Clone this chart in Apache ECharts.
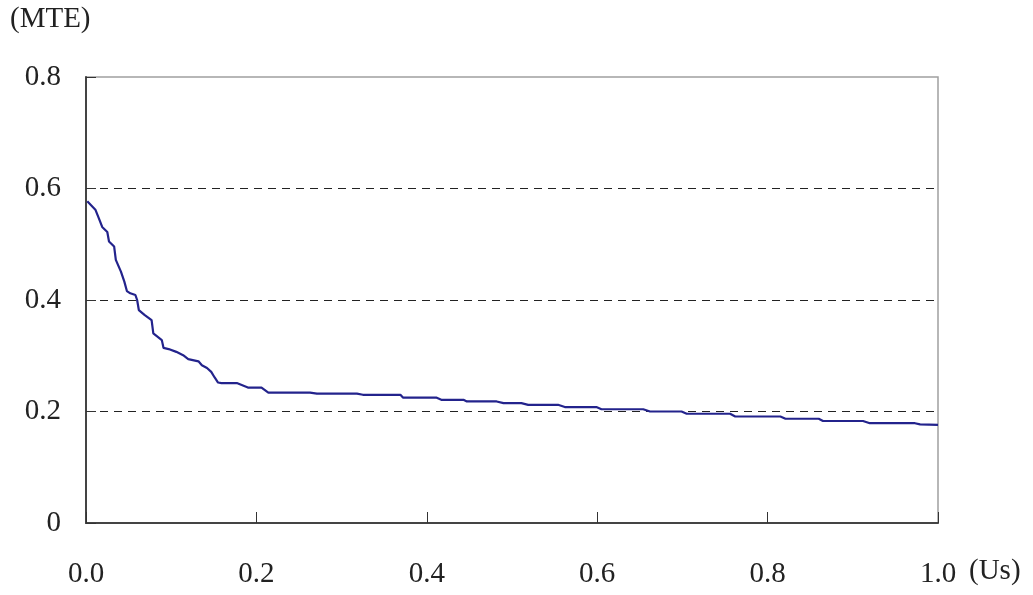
<!DOCTYPE html>
<html>
<head>
<meta charset="utf-8">
<script src="https://cdn.jsdelivr.net/npm/echarts@6/dist/echarts.min.js"></script>
<style>
  html, body { margin: 0; padding: 0; background: #fff; }
  #chart { width: 1033px; height: 595px; }
</style>
</head>
<body>
<div id="chart"></div>
<script>
// 曲线数据 (Us, MTE)
const usValues = [
  0.0015, 0.011, 0.015, 0.019, 0.025, 0.027, 0.033, 0.035, 0.041, 0.045,
  0.048, 0.052, 0.058, 0.060, 0.062, 0.069, 0.077, 0.079, 0.089, 0.091,
  0.097, 0.106, 0.114, 0.120, 0.132, 0.136, 0.142, 0.147, 0.151, 0.155,
  0.159, 0.177, 0.190, 0.206, 0.214, 0.263, 0.271, 0.318, 0.325, 0.369,
  0.372, 0.411, 0.417, 0.443, 0.447, 0.482, 0.490, 0.511, 0.519, 0.554,
  0.562, 0.599, 0.605, 0.654, 0.662, 0.699, 0.705, 0.756, 0.762, 0.815,
  0.821, 0.860, 0.865, 0.912, 0.920, 0.973, 0.979, 1.0
]
const mteValues = [
  0.577, 0.562, 0.547, 0.531, 0.522, 0.505, 0.496, 0.472, 0.451, 0.433,
  0.416, 0.412, 0.409, 0.400, 0.382, 0.373, 0.364, 0.340, 0.328, 0.314,
  0.312, 0.307, 0.301, 0.294, 0.290, 0.283, 0.278, 0.271, 0.261, 0.252,
  0.251, 0.251, 0.243, 0.243, 0.234, 0.234, 0.232, 0.232, 0.230, 0.230,
  0.225, 0.225, 0.221, 0.221, 0.218, 0.218, 0.215, 0.215, 0.212, 0.212,
  0.208, 0.208, 0.204, 0.204, 0.200, 0.200, 0.196, 0.196, 0.191, 0.191,
  0.187, 0.187, 0.183, 0.183, 0.179, 0.179, 0.177, 0.176
]
const yTickLabels = ['0', '0.2', '0.4', '0.6', '0.8']
const xTickLabels = ['0.0', '0.2', '0.4', '0.6', '0.8', '1.0']

const chartInstance = echarts.init(document.getElementById('chart'))
const font = '"Liberation Serif", "Times New Roman", serif'

const option = {
  backgroundColor: '#fff',
  animation: false,
  grid: {
    left: 86,
    top: 77,
    right: 95,
    bottom: 72,
    show: true,
    borderColor: '#a0a0a0',
    borderWidth: 1.5
  },
  xAxis: {
    type: 'value',
    min: 0,
    max: 1,
    interval: 0.2,
    axisLine: { lineStyle: { color: '#444', width: 2 } },
    axisTick: { inside: true, length: 11, lineStyle: { color: '#333' } },
    axisLabel: {
      margin: 37,
      color: '#222',
      fontFamily: font,
      fontSize: 29,
      formatter: (v) => xTickLabels[Math.round(v * 5)]
    },
    splitLine: { show: false }
  },
  yAxis: {
    type: 'value',
    min: 0,
    max: 0.8,
    interval: 0.2,
    axisLine: { show: true, lineStyle: { color: '#444', width: 2 } },
    axisTick: { show: true, inside: true, length: 10, lineStyle: { color: '#333' } },
    axisLabel: {
      margin: 25,
      color: '#222',
      fontFamily: font,
      fontSize: 29,
      formatter: (v) => yTickLabels[Math.round(v * 5)]
    },
    splitLine: {
      show: true,
      lineStyle: {
        color: ['#222', '#222', '#222', '#222', 'rgba(0,0,0,0)'],
        type: [8, 6],
        width: 1.2
      }
    }
  },
  graphic: [
    {
      type: 'text',
      left: 10,
      top: 5,
      style: { text: '(MTE)', font: '29px ' + font, fill: '#222' }
    },
    {
      type: 'text',
      left: 969,
      top: 557,
      style: { text: '(Us)', font: '29px ' + font, fill: '#222' }
    }
  ],
  series: [
    {
      type: 'line',
      data: usValues.map((x, i) => [x, mteValues[i]]),
      symbol: 'none',
      lineStyle: { color: '#23238c', width: 2.2 },
      z: 3
    }
  ]
}
chartInstance.setOption(option)
</script>
</body>
</html>
